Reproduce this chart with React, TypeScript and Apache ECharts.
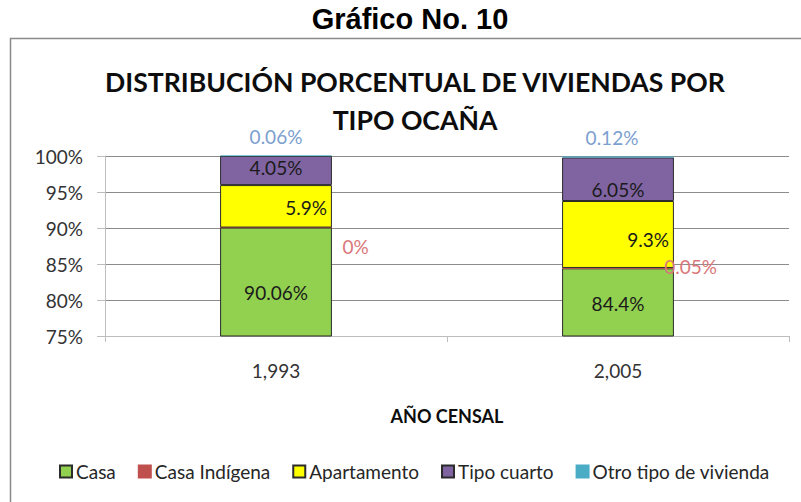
import React, { useEffect, useRef } from "react";
import * as echarts from "echarts";

const years = ["1,993", "2,005"];
const casa = [90.06, 84.4];
const casaIndigena = [0, 0.05];
const apartamento = [5.9, 9.3];
const tipoCuarto = [4.05, 6.05];
const otroTipo = [0.06, 0.12];
const yTicks = [75, 80, 85, 90, 95, 100];

const FONT = "Lato, 'Open Sans', sans-serif";

export default function App() {
  const ref = useRef<HTMLDivElement>(null);
  useEffect(() => {
    if (!ref.current) return;
    const chart = echarts.init(ref.current, undefined, { renderer: "svg" });
    const fmt = (v: number) => `${v}%`;
    const dataLabelBase = { show: true, fontFamily: FONT, fontSize: 19, color: "#1a1a1a" };
    const itemsWith = (vals: number[], offsets: number[][]) =>
      vals.map((v, i) => ({ value: v, label: { offset: offsets[i] } }));
    const option: any = {
      animation: false,
      backgroundColor: "#ffffff",
      title: {
        text: "DISTRIBUCIÓN PORCENTUAL DE VIVIENDAS POR\nTIPO OCAÑA",
        left: 410,
        textAlign: "center",
        top: 58,
        textStyle: { fontFamily: FONT, fontWeight: "bold", fontSize: 26.6, lineHeight: 38, color: "#0d0d0d" },
      },
      graphic: [
        {
          type: "text",
          x: 410,
          y: 4,
          style: {
            text: "Gráfico No. 10",
            fontFamily: "'Liberation Sans', Arial, sans-serif",
            fontWeight: "bold",
            fontSize: 29,
            fill: "#000",
            textAlign: "center",
            textVerticalAlign: "top",
          },
        },
        {
          type: "rect",
          shape: { x: 10.5, y: 38.5, width: 800, height: 480 },
          style: { fill: "none", stroke: "#8a8a8a", lineWidth: 1.5 },
          z: -1,
        },
      ],
      legend: {
        bottom: 21,
        left: 59,
        padding: 0,
        itemWidth: 12,
        itemHeight: 12,
        itemGap: 22,
        icon: "rect",
        textStyle: { fontFamily: FONT, fontSize: 19, color: "#262626", padding: [0, 0, 0, -1] },
        data: ["Casa", "Casa Indígena", "Apartamento", "Tipo cuarto", "Otro tipo de vivienda"],
      },
      grid: { left: 105, right: 12, top: 156, bottom: 166 },
      xAxis: {
        type: "category",
        data: years,
        name: "AÑO CENSAL",
        nameLocation: "middle",
        nameGap: 71,
        nameTextStyle: { fontFamily: FONT, fontWeight: "bold", fontSize: 18, color: "#0d0d0d" },
        axisLine: { lineStyle: { color: "#bdbdbd", width: 1 } },
        axisTick: { show: true, length: 6, lineStyle: { color: "#bdbdbd" } },
        axisLabel: { fontFamily: FONT, fontSize: 19, color: "#333", margin: 25 },
      },
      yAxis: {
        type: "value",
        min: yTicks[0],
        max: yTicks[yTicks.length - 1],
        interval: yTicks[1] - yTicks[0],
        axisLine: { show: true, lineStyle: { color: "#bdbdbd" } },
        axisTick: { show: true, length: 8, lineStyle: { color: "#bdbdbd" } },
        axisLabel: { fontFamily: FONT, fontSize: 19, color: "#333", formatter: (v: number) => `${v}%`, margin: 22 },
        splitLine: { lineStyle: { color: "#8c8c8c", width: 1 } },
      },
      series: [
        {
          name: "Casa",
          type: "bar",
          stack: "t",
          barWidth: "32.7%",
          itemStyle: { color: "#92D050", borderColor: "#2b2b2b", borderWidth: 1 },
          label: { ...dataLabelBase, position: "inside", formatter: (p: any) => fmt(p.value) },
          data: itemsWith(casa, [[0, 10], [0, 1]]),
        },
        {
          name: "Casa Indígena",
          type: "bar",
          stack: "t",
          itemStyle: { color: "#C0504D", borderColor: "#C0504D", borderWidth: 1 },
          label: { ...dataLabelBase, color: "#D9787A", position: "right", formatter: (p: any) => fmt(p.value) },
          data: itemsWith(casaIndigena, [[5, 19], [-15, -2]]),
        },
        {
          name: "Apartamento",
          type: "bar",
          stack: "t",
          itemStyle: { color: "#FFFF00", borderColor: "#2b2b2b", borderWidth: 1 },
          label: { ...dataLabelBase, position: "insideRight", distance: 5, formatter: (p: any) => fmt(p.value) },
          data: itemsWith(apartamento, [[0, 1], [0, 5]]),
        },
        {
          name: "Tipo cuarto",
          type: "bar",
          stack: "t",
          itemStyle: { color: "#8064A2", borderColor: "#2b2b2b", borderWidth: 1 },
          label: { ...dataLabelBase, position: "inside", formatter: (p: any) => fmt(p.value) },
          data: itemsWith(tipoCuarto, [[0, -3], [0, 10]]),
        },
        {
          name: "Otro tipo de vivienda",
          type: "bar",
          stack: "t",
          clip: false,
          itemStyle: { color: "#4BACC6", borderColor: "#4BACC6", borderWidth: 0.5 },
          label: { ...dataLabelBase, color: "#7BA0CF", position: "top", distance: 5, formatter: (p: any) => fmt(p.value) },
          data: itemsWith(otroTipo, [[0, -4], [-6, -5]]),
        },
      ],
    };
    chart.setOption(option);
    return () => chart.dispose();
  }, []);
  return (
    <div
      ref={ref}
      style={{ position: "fixed", left: 0, top: 0, width: 801, height: 502, background: "#fff" }}
    />
  );
}
